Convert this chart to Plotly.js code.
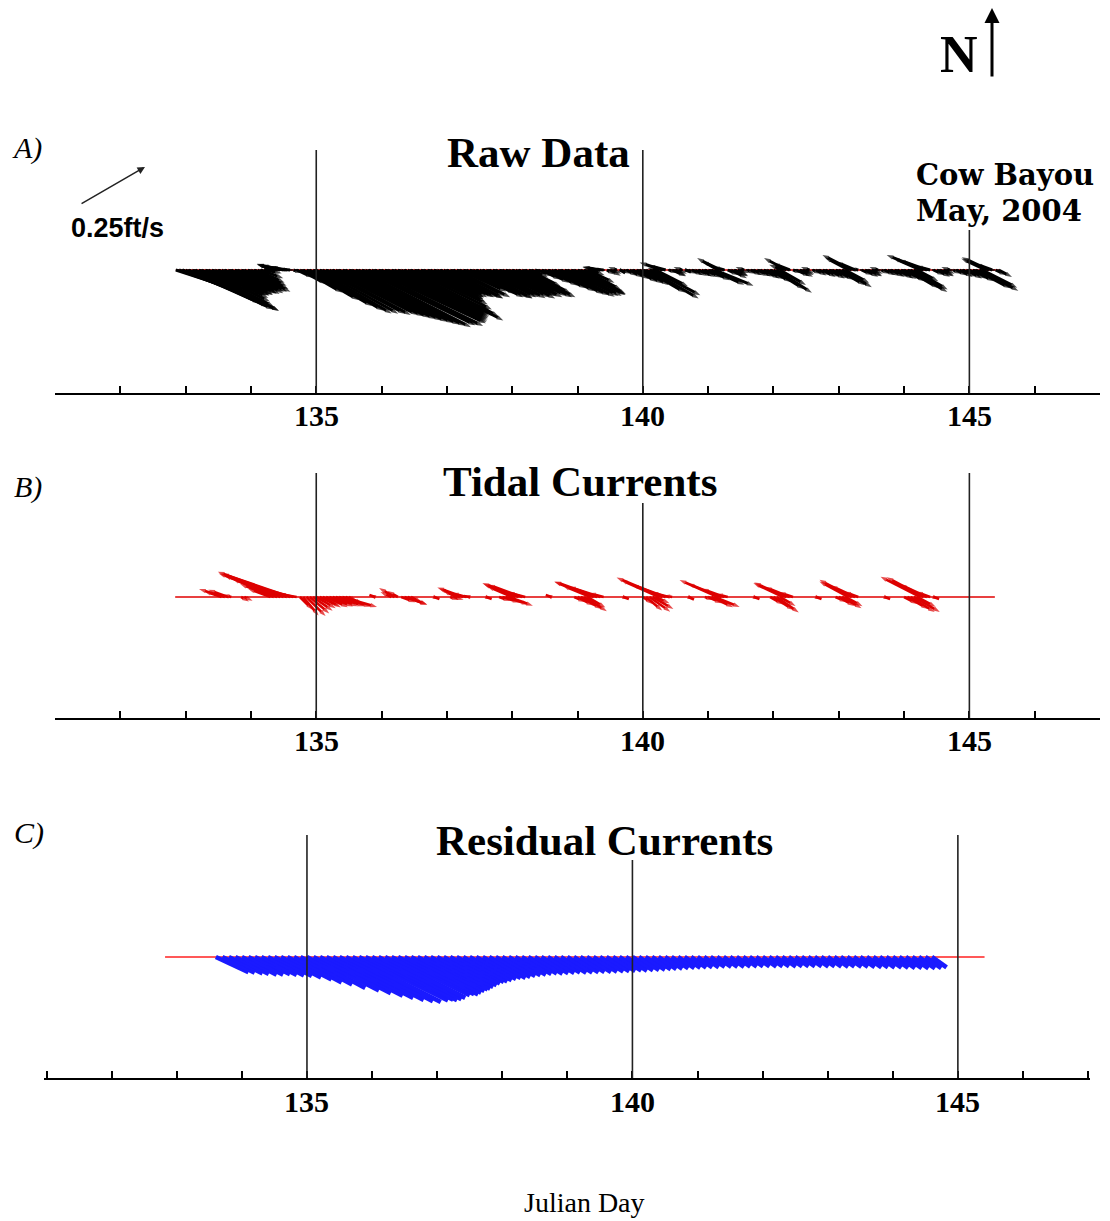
<!DOCTYPE html>
<html><head><meta charset="utf-8">
<script src="https://cdn.plot.ly/plotly-3.0.1.min.js"></script>
<style>html,body{margin:0;padding:0;background:#fff}#chart{width:1110px;height:1221px}</style>
</head><body><div id="chart"></div>
<script>
// ---------------- DATA ----------------
// Julian day ticks
const tickDays = [131,132,133,134,135,136,137,138,139,140,141,142,143,144,145,146,147];
const labelDays = [135,140,145];

// A) Raw data: start day, speed (ft/s), direction (deg, 0 = east, 90 = north)
const rawDay = [
132.85,132.90,132.95,133.00,133.05,133.10,133.15,133.20,133.25,133.30,
133.35,133.40,133.45,133.50,133.55,133.60,133.65,133.70,133.75,133.80,
133.85,133.90,133.95,134.00,134.05,134.10,134.15,134.20,134.25,134.30,
134.35,134.40,134.45,134.50,134.55,134.60,134.65,134.70,134.75,134.80,
134.85,134.90,134.95,135.00,135.05,135.10,135.15,135.20,135.25,135.30,
135.35,135.40,135.45,135.50,135.55,135.60,135.65,135.70,135.75,135.80,
135.85,135.90,135.95,136.00,136.05,136.10,136.15,136.20,136.25,136.30,
136.35,136.40,136.45,136.50,136.55,136.60,136.65,136.70,136.75,136.80,
136.85,136.90,136.95,137.00,137.05,137.10,137.15,137.20,137.25,137.30,
137.35,137.40,137.45,137.50,137.55,137.60,137.65,137.70,137.75,137.80,
137.85,137.90,137.95,138.00,138.05,138.10,138.15,138.20,138.25,138.30,
138.35,138.40,138.45,138.50,138.55,138.60,138.65,138.70,138.75,138.80,
138.85,138.90,138.95,139.00,139.05,139.10,139.15,139.20,139.25,139.30,
139.35,139.40,139.45,139.50,139.55,139.60,139.65,139.70,139.75,139.80,
139.85,139.90,139.95,140.00,140.05,140.10,140.15,140.20,140.25,140.30,
140.35,140.40,140.45,140.50,140.55,140.60,140.65,140.70,140.75,140.80,
140.85,140.90,140.95,141.00,141.05,141.10,141.15,141.20,141.25,141.30,
141.35,141.40,141.45,141.50,141.55,141.60,141.65,141.70,141.75,141.80,
141.85,141.90,141.95,142.00,142.05,142.10,142.15,142.20,142.25,142.30,
142.35,142.40,142.45,142.50,142.55,142.60,142.65,142.70,142.75,142.80,
142.85,142.90,142.95,143.00,143.05,143.10,143.15,143.20,143.25,143.30,
143.35,143.40,143.45,143.50,143.55,143.60,143.65,143.70,143.75,143.80,
143.85,143.90,143.95,144.00,144.05,144.10,144.15,144.20,144.25,144.30,
144.35,144.40,144.45,144.50,144.55,144.60,144.65,144.70,144.75,144.80,
144.85,144.90,144.95,145.00,145.05,145.10,145.15,145.20,145.25,145.30,
145.35,145.40,145.45];
const rawSpeed = [
.21,.22,.24,.27,.29,.30,.31,.30,.27,.24,
.22,.21,.20,.19,.19,.18,.18,.17,.17,.17,
.16,.16,.16,.14,.12,.10,.08,.06,.04,.04,
.06,.07,.08,.075,.06,.04,.03,.06,.10,.15,
.20,.24,.27,.29,.30,.31,.32,.33,.34,.35,
.36,.37,.38,.39,.40,.41,.42,.42,.42,.425,
.42,.41,.40,.39,.38,.37,.36,.35,.34,.35,
.37,.34,.30,.27,.25,.23,.22,.21,.20,.20,
.20,.20,.20,.21,.20,.19,.20,.17,.16,.18,
.20,.20,.21,.20,.20,.20,.19,.20,.20,.21,
.20,.19,.20,.18,.19,.20,.20,.17,.12,.06,
.04,.05,.07,.09,.11,.13,.15,.17,.18,.19,
.19,.19,.19,.18,.17,.14,.10,.05,.03,.05,
.06,.04,.03,.04,.03,.03,.02,.03,.04,.05,
.06,.08,.09,.10,.15,.19,.18,.12,.04,.08,
.06,.03,.05,.04,.03,.03,.02,.03,.04,.04,
.05,.05,.06,.08,.12,.14,.08,.07,.04,.04,
.06,.05,.04,.03,.03,.03,.04,.04,.05,.05,
.06,.06,.08,.12,.14,.10,.05,.085,.06,.03,
.05,.05,.04,.03,.03,.03,.04,.04,.05,.05,
.06,.06,.07,.10,.115,.09,.09,.11,.07,.03,
.04,.05,.05,.04,.03,.03,.03,.04,.04,.05,
.05,.06,.06,.08,.12,.143,.13,.08,.10,.133,
.10,.05,.04,.05,.05,.04,.03,.03,.03,.04,
.05,.05,.06,.06,.08,.13,.148,.13,.09,.10,
.06,.04,.05];
const rawDir = [
-18,-20,-22,-24,-25,-26,-26,-27,-27,-26,
-25,-24,-25,-25,-26,-27,-26,-27,-28,-27,
-27,-27,-27,-27,-26,-25,-20,-10,20,150,
160,165,166,168,170,175,-20,-25,-28,-30,
-30,-30,-30,-30,-29,-28,-28,-27,-27,-27,
-27,-27,-27,-27,-27,-27,-27,-26,-26,-26,
-25,-25,-25,-25,-25,-25,-25,-25,-24,-26,
-27,-27,-26,-25,-25,-25,-26,-26,-27,-27,
-26,-27,-27,-27,-28,-27,-27,-25,-24,-26,
-27,-27,-27,-28,-27,-27,-27,-28,-27,-27,
-26,-27,-27,-26,-27,-27,-27,-27,-27,-25,
-20,-25,-27,-28,-28,-28,-28,-28,-28,-28,
-27,-27,-26,-27,-28,-28,-25,-20,160,168,
170,175,-30,-28,-25,160,-30,-25,-28,-30,
-30,-30,-30,-30,-30,-30,-28,-27,170,162,
165,-20,-25,-28,-25,160,-20,-25,-25,-28,
-25,-28,-25,-25,-24,-22,150,155,165,-25,
-27,-25,-28,-20,160,-25,-25,-28,-25,-27,
-28,-30,-30,-32,-33,-30,160,152,158,-20,
-25,-27,-25,-25,160,-25,-27,-25,-28,-27,
-28,-28,-28,-30,-30,-28,152,153,157,170,
-25,-27,-25,-28,-25,160,-25,-25,-28,-27,
-28,-28,-30,-28,-30,-31,-30,-28,156,158,
160,165,-25,-27,-25,-28,-25,160,-25,-27,
-28,-27,-28,-28,-28,-28,-28,-27,155,155,
160,-25,-28];

// B) Tidal currents
const tideDay = [
133.55,133.60,133.65,133.70,133.85,133.90,
134.30,134.35,134.40,134.45,134.50,134.55,134.60,134.65,134.70,
134.75,134.80,134.85,134.90,134.95,135.00,135.05,135.10,135.15,135.20,135.25,135.30,135.35,135.40,135.45,135.50,
135.90,136.15,136.20,136.25,136.30,136.35,136.40,136.45,
136.80,137.05,137.10,137.15,137.20,137.25,137.30,137.35,
137.60,137.80,137.85,137.90,137.95,138.00,138.05,138.10,138.15,138.20,
138.60,138.95,139.00,139.05,139.10,139.15,139.20,139.25,139.30,139.35,139.40,
139.70,140.00,140.05,140.10,140.15,140.20,140.25,140.30,140.35,140.40,140.45,
140.70,140.95,141.00,141.05,141.10,141.15,141.20,141.25,141.30,
141.70,141.95,142.00,142.05,142.10,142.15,142.20,142.25,142.30,
142.65,142.95,143.00,143.05,143.10,143.15,143.20,143.25,143.30,
143.70,144.00,144.05,144.10,144.15,144.20,144.25,144.30,144.35,144.40,144.45];
const tideSpeed = [
.06,.09,.07,.03,.03,.03,
.08,.12,.16,.20,.23,.245,.24,.15,.06,
.06,.08,.09,.085,.08,.075,.07,.07,.08,.085,.09,.10,.11,.12,.06,.03,
.02,.04,.06,.04,.05,.08,.07,.04,
.02,.03,.035,.05,.075,.092,.05,.02,
.02,.04,.06,.08,.085,.09,.115,.13,.12,.06,
.02,.04,.06,.08,.09,.07,.10,.14,.152,.11,.05,
.02,.04,.07,.085,.08,.05,.14,.166,.12,.06,.03,
.02,.03,.05,.08,.09,.14,.12,.08,.04,
.02,.05,.08,.09,.06,.11,.118,.09,.05,
.02,.04,.06,.075,.065,.11,.122,.09,.05,
.02,.05,.08,.095,.10,.07,.149,.14,.10,.05,.02];
const tideDir = [
162,163,160,165,-30,-25,
160,159,158,159,160,160,161,165,170,
-45,-50,-45,-40,-35,-30,-25,-30,-25,-22,-20,-18,-17,-16,-20,-25,
160,155,150,150,-20,-18,-22,-25,
-20,-20,-15,155,158,160,165,170,
-20,-20,-18,-18,-20,157,158,159,160,165,
160,-25,-28,-30,-32,-30,158,159,160,162,165,
-20,-35,-40,-35,-30,-25,156,157,160,165,170,
-25,-20,-25,-25,-22,156,158,160,165,
-20,-30,-33,-35,-30,155,156,158,162,
-20,-25,-30,-30,-28,152,152,155,160,
-20,-28,-30,-32,-30,-28,153,152,155,160,-20];

// C) Residual currents
const resDay = [
133.6,133.7,133.8,133.9,134.0,134.1,134.2,134.3,134.4,134.5,
134.6,134.7,134.8,134.9,135.0,135.1,135.2,135.3,135.4,135.5,
135.6,135.7,135.8,135.9,136.0,136.1,136.2,136.3,136.4,136.5,
136.6,136.7,136.8,136.9,137.0,137.1,137.2,137.3,137.4,137.5,
137.6,137.7,137.8,137.9,138.0,138.1,138.2,138.3,138.4,138.5,
138.6,138.7,138.8,138.9,139.0,139.1,139.2,139.3,139.4,139.5,
139.6,139.7,139.8,139.9,140.0,140.1,140.2,140.3,140.4,140.5,
140.6,140.7,140.8,140.9,141.0,141.1,141.2,141.3,141.4,141.5,
141.6,141.7,141.8,141.9,142.0,142.1,142.2,142.3,142.4,142.5,
142.6,142.7,142.8,142.9,143.0,143.1,143.2,143.3,143.4,143.5,
143.6,143.7,143.8,143.9,144.0,144.1,144.2,144.3,144.4,144.5,
144.6];
const resSpeed = [
.12,.12,.125,.125,.13,.13,.13,.132,.135,.14,
.15,.165,.18,.195,.22,.245,.265,.285,.30,.315,
.325,.33,.33,.325,.318,.31,.30,.29,.282,.275,
.262,.25,.238,.225,.212,.20,.188,.178,.168,.16,
.152,.145,.14,.133,.127,.122,.118,.114,.11,.108,
.105,.103,.10,.10,.098,.097,.095,.095,.093,.092,
.09,.088,.086,.084,.082,.08,.078,.075,.072,.07,
.068,.066,.064,.062,.06,.06,.058,.058,.057,.057,
.056,.056,.055,.055,.056,.055,.055,.056,.055,.055,
.054,.055,.056,.055,.056,.057,.056,.058,.058,.059,
.06,.06,.061,.062,.063,.064,.065,.066,.066,.065,
.06];
const resDir = [
-25,-26,-26,-27,-27,-27,-26,-27,-27,-27,
-27,-27,-28,-28,-28,-27,-27,-27,-27,-27,
-27,-27,-26,-26,-27,-27,-27,-26,-26,-27,
-27,-27,-27,-28,-28,-28,-28,-28,-29,-29,
-29,-29,-30,-30,-30,-30,-30,-30,-30,-31,
-31,-31,-31,-32,-32,-32,-32,-32,-32,-32,
-32,-32,-32,-33,-33,-33,-33,-33,-34,-34,
-34,-34,-34,-35,-35,-35,-35,-35,-35,-35,
-35,-35,-35,-35,-35,-35,-35,-35,-35,-35,
-35,-35,-35,-35,-35,-35,-35,-35,-35,-35,
-35,-35,-35,-35,-35,-35,-35,-35,-35,-35,
-35];

// reference baselines (start/end day) and scale vector
const rawBaseline = [132.85,145.45];
const tideBaseline = [132.84,145.39];
const resBaseline = [132.82,145.41];
const scaleVector = {speed:0.25, dir:30, label:'0.25ft/s'};

// ---------------- LAYOUT GEOMETRY (pixels) ----------------
const W=1110, H=1221, PX_PER_FTS=300;
const panels = [
  {xDom:[55,1100], xRange:[131,147], yBase:270, yTop:140, yAxis:393, labelY:415, lineTops:[150,150,230]},
  {xDom:[55,1100], xRange:[131,147], yBase:597, yTop:465, yAxis:718, labelY:740, lineTops:[473,503,473]},
  {xDom:[44,1090], xRange:[130.96,147.03], yBase:957, yTop:825, yAxis:1078, labelY:1101, lineTops:[835,860,835]}
];
const py = p => 1 - p/H;
const px = p => p/W;

function stickTrace(day, spd, dir, p, ax, color, width, head){
  const ppd = (p.xDom[1]-p.xDom[0])/(p.xRange[1]-p.xRange[0]);
  const xs=[], ys=[], sz=[];
  for(let i=0;i<day.length;i++){
    const a = dir[i]*Math.PI/180;
    const u = spd[i]*Math.cos(a), v = spd[i]*Math.sin(a);
    xs.push(day[i], day[i] + u*PX_PER_FTS/ppd, null);
    ys.push(0, v, null);
    sz.push(0, head, 0);
  }
  const tr = {type:'scatter', x:xs, y:ys, xaxis:'x'+ax, yaxis:'y'+ax, mode: head ? 'lines+markers':'lines',
    line:{color:color, width:width}, hoverinfo:'skip', showlegend:false, connectgaps:false};
  if(head) tr.marker = {symbol:'arrow', size:sz, color:color, angleref:'previous', line:{width:0}};
  return tr;
}
function baseTrace(b, ax, color, width, dash){
  return {type:'scatter', mode:'lines', x:b, y:[0,0], xaxis:'x'+ax, yaxis:'y'+ax,
    line:{color:color, width:width, dash:dash||'solid'}, hoverinfo:'skip', showlegend:false};
}

const traces = [
  baseTrace(rawBaseline,'', '#d00000', 1.5),
  baseTrace(rawBaseline,'', '#000', 1.5, 'dot'),
  stickTrace(rawDay, rawSpeed, rawDir, panels[0], '', '#000', 3, 7),
  baseTrace(tideBaseline,'2', '#e00000', 1.5),
  stickTrace(tideDay, tideSpeed, tideDir, panels[1], '2', '#dd0000', 2.6, 7),
  baseTrace(resBaseline,'3', '#ff2020', 1.5),
  stickTrace(resDay, resSpeed, resDir, panels[2], '3', '#1a1aff', 4.6, 0)
];

const layout = {width:W, height:H, margin:{l:0,r:0,t:0,b:0}, paper_bgcolor:'#fff', plot_bgcolor:'rgba(0,0,0,0)',
  showlegend:false, shapes:[], annotations:[]};

const serif = 'Liberation Serif';
panels.forEach((p,i)=>{
  const s = i===0 ? '' : String(i+1);
  layout['xaxis'+s] = {domain:[px(p.xDom[0]), px(p.xDom[1])], range:p.xRange, anchor:'y'+s,
    showline:true, linecolor:'#000', linewidth:2, ticks:'inside', ticklen:7, tickwidth:2, tickcolor:'#000',
    tickmode:'array', tickvals:tickDays, ticktext:tickDays.map(()=>''), showticklabels:false,
    showgrid:false, zeroline:false, fixedrange:true};
  layout['yaxis'+s] = {domain:[py(p.yAxis), py(p.yTop)], range:[-(p.yAxis-p.yBase)/PX_PER_FTS, (p.yBase-p.yTop)/PX_PER_FTS],
    visible:false, fixedrange:true, anchor:'x'+s};
  labelDays.forEach((d,k)=>{
    layout.shapes.push({type:'line', xref:'x'+s, yref:'paper', x0:d, x1:d, y0:py(p.yAxis), y1:py(p.lineTops[k]),
      line:{color:'#222', width:1.6}, layer:'above'});
    layout.annotations.push({text:'<b>'+d+'</b>', x:d, xref:'x'+s, y:py(p.labelY), yref:'paper', showarrow:false,
      xanchor:'center', yanchor:'middle', font:{family:serif, size:30, color:'#000'}});
  });
});

function txt(t, x, y, size, opts){
  return Object.assign({text:t, x:px(x), y:py(y), xref:'paper', yref:'paper', showarrow:false,
    xanchor:'center', yanchor:'middle', font:{family:serif, size:size, color:'#000'}}, opts||{});
}
layout.annotations.push(
  txt('<i>A)</i>', 10, 148, 30, {xanchor:'left'}),
  txt('<i>B)</i>', 12, 487, 30, {xanchor:'left'}),
  txt('<i>C)</i>', 12, 833, 30, {xanchor:'left'}),
  txt('<b>Raw Data</b>', 538, 152, 43),
  txt('<b>Tidal Currents</b>', 580, 481, 43),
  txt('<b>Residual Currents</b>', 604, 840, 43),
  txt('<b>Cow Bayou</b>', 914, 175, 29, {xanchor:'left', font:{family:'DejaVu Serif', size:29, color:'#000'}}),
  txt('<b>May, 2004</b>', 914, 211, 29, {xanchor:'left', font:{family:'DejaVu Serif', size:29, color:'#000'}}),
  txt('<b>N</b>', 959, 55, 52),
  txt('Julian Day', 585, 1202, 28),
  txt('<b>'+scaleVector.label+'</b>', 69, 228, 27, {xanchor:'left', font:{family:'Liberation Sans', size:27, color:'#000'}})
);
// north arrow
layout.annotations.push({text:'', x:px(992), y:py(8), xref:'paper', yref:'paper', showarrow:true,
  ax:0, ay:70, arrowhead:2, arrowsize:1, arrowwidth:3, arrowcolor:'#000', standoff:0});
// scale vector (0.25 ft/s at the figure's stick scale)
{
  const a = scaleVector.dir*Math.PI/180, L = scaleVector.speed*PX_PER_FTS;
  layout.annotations.push({text:'', x:px(145), y:py(167), xref:'paper', yref:'paper', showarrow:true,
    ax:-L*Math.cos(a), ay:L*Math.sin(a), arrowhead:2, arrowsize:1, arrowwidth:1.5, arrowcolor:'#222', standoff:0});
}

Plotly.newPlot('chart', traces, layout, {staticPlot:true, displayModeBar:false});
</script>
</body></html>
